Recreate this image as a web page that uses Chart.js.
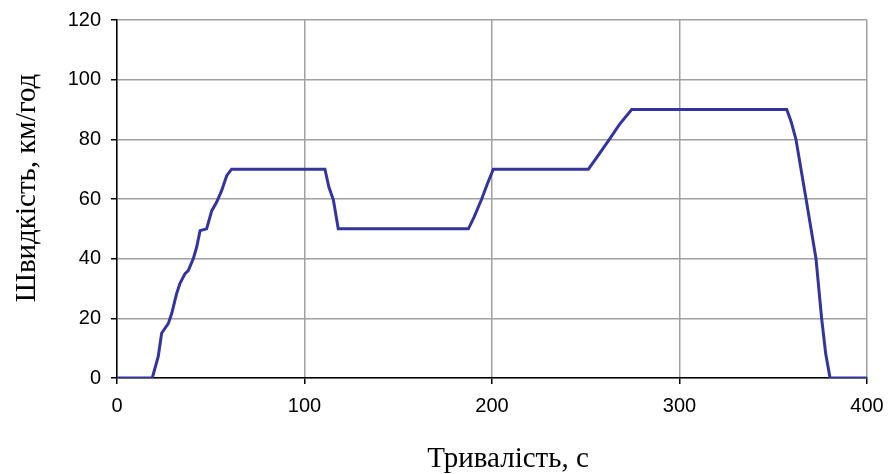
<!DOCTYPE html>
<html>
<head>
<meta charset="utf-8">
<script src="https://cdn.jsdelivr.net/npm/chart.js@4/dist/chart.umd.min.js"></script>
<style>
  html, body { margin: 0; padding: 0; background: #ffffff; }
  #wrap { width: 888px; height: 474px; position: relative; }
</style>
</head>
<body>
<div id="wrap"><canvas id="c" width="888" height="474"></canvas></div>
<script>
// Data
const timeS = [0, 18.8, 22, 23.8, 27.4, 29.2, 31.8, 33.6, 36.3, 38, 40.7, 42.5, 44.3, 47.8, 50.5, 53.1, 55.8, 58.5, 61.1,
  110.9, 113, 115.4, 118, 187.4, 190.5, 194.5, 197.5, 200.7, 251.4, 256, 262.6, 268, 274.5,
  357.2, 359.5, 362.1, 367.5, 372.8, 375.8, 378, 380.3, 400];
const speedKmh = [0, 0, 7.2, 15, 18.3, 21.7, 28.3, 31.7, 35, 36, 40, 43.9, 49.4, 50, 56, 58.9, 62.8, 67.8, 70,
  70, 64, 59.7, 50, 50, 54, 60, 65, 70, 70, 74, 80, 85, 90,
  90, 86, 80, 60, 40, 20, 8, 0, 0];
const xTicks = [0, 100, 200, 300, 400];
const yTicks = [0, 20, 40, 60, 80, 100, 120];
const xTitle = 'Тривалість, с';
const yTitle = 'Швидкість, км/год';

const points = timeS.map((t, i) => ({ x: t, y: speedKmh[i] }));

const titlePlugin = {
  id: 'axisTitles',
  afterDraw(chart) {
    const ctx = chart.ctx;
    ctx.save();
    ctx.fillStyle = '#000000';
    ctx.font = '29px "Liberation Serif", "Times New Roman", serif';
    ctx.textAlign = 'center';
    ctx.textBaseline = 'middle';
    ctx.fillText(xTitle, 508, 459);
    ctx.translate(27, 188);
    ctx.rotate(-Math.PI / 2);
    ctx.fillText(yTitle, 0, 0);
    ctx.restore();
  }
};

new Chart(document.getElementById('c'), {
  type: 'line',
  data: {
    datasets: [{
      data: points,
      borderColor: '#34349e',
      borderWidth: 3,
      pointRadius: 0,
      tension: 0,
      fill: false
    }]
  },
  options: {
    responsive: false,
    animation: false,
    plugins: { legend: { display: false }, tooltip: { enabled: false } },
    layout: { padding: { top: 20, right: 21, left: 0, bottom: 0 } },
    scales: {
      x: {
        type: 'linear',
        min: 0, max: 400,
        afterFit(s) { s.height = 96; s.paddingRight = 0; s.paddingLeft = 0; },
        afterBuildTicks(s) { s.ticks = xTicks.map(v => ({ value: v })); },
        ticks: {
          color: '#000000',
          padding: 10,
          maxRotation: 0,
          font: { family: '"Liberation Sans", Arial, sans-serif', size: 20 }
        },
        grid: { color: '#a0a0a0', lineWidth: 1.5, tickColor: '#000000', tickLength: 6, drawTicks: true },
        border: { color: '#000000', width: 1.5 }
      },
      y: {
        type: 'linear',
        min: 0, max: 120,
        afterFit(s) { s.width = 117; s.paddingTop = 0; s.paddingBottom = 0; },
        afterBuildTicks(s) { s.ticks = yTicks.map(v => ({ value: v })); },
        ticks: {
          color: '#000000',
          padding: 10,
          font: { family: '"Liberation Sans", Arial, sans-serif', size: 20 }
        },
        grid: { color: '#a0a0a0', lineWidth: 1.5, tickColor: '#000000', tickLength: 6, drawTicks: true },
        border: { color: '#000000', width: 1.5 }
      }
    }
  },
  plugins: [titlePlugin]
});
</script>
</body>
</html>
